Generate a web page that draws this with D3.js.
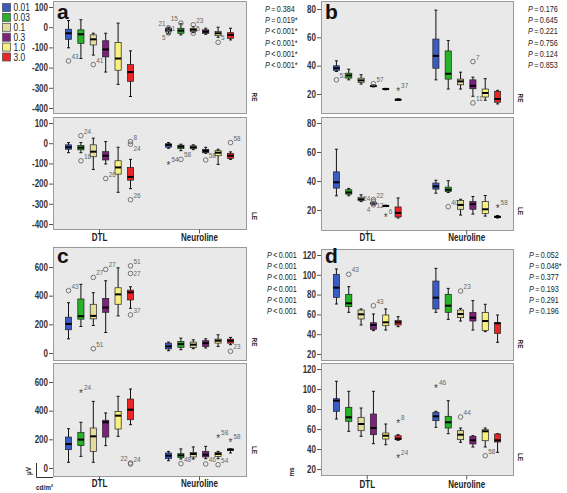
<!DOCTYPE html>
<html><head><meta charset="utf-8">
<script src="https://cdn.jsdelivr.net/npm/d3@7"></script>
<style>body{margin:0;background:#fff}svg{display:block}</style>
</head><body>
<svg id="chart" width="567" height="493"></svg>
<script>
// ---------- DATA ----------
const categories = ["DTL", "Neuroline"];
const series = ["0.01", "0.03", "0.1", "0.3", "1.0", "3.0"];
const seriesColors = ["#3a5bc4", "#27b327", "#e4dc9e", "#7e207e", "#f8f27c", "#ec2424"];

const aTicks = [-400, -300, -200, -100, 0, 100];
const bTicks = [20, 40, 60, 80];
const cTicks = [0, 200, 400, 600];
const dTicks = [20, 40, 60, 80, 100, 120];

// boxes: [category][series] = [whiskerLow, Q1, median, Q3, whiskerHigh]
const aRE = [
  [[-102,-60,-30,-10,33],[-155,-80,-35,-13,37],[-138,-88,-60,-38,-30],[-222,-147,-110,-67,-30],[-283,-213,-155,-75,20],[-343,-268,-222,-185,-117]],
  [[-30,-22,-13,-5,0],[-38,-30,-17,-5,17],[-27,-22,-13,-7,3],[-35,-30,-22,-13,-5],[-50,-42,-30,-22,0],[-63,-55,-38,-27,-5]]
];
const aLE = [
  [[-47,-30,-20,-8,3],[-47,-33,-22,-12,3],[-130,-67,-42,-8,25],[-103,-83,-62,-42,8],[-243,-153,-120,-87,-20],[-225,-183,-167,-120,-80]],
  [[-25,-20,-8,-3,3],[-37,-27,-17,-10,-5],[-32,-27,-20,-13,-8],[-50,-47,-38,-30,-20],[-105,-62,-47,-37,-30],[-80,-75,-62,-50,-43]]
];
const bRE = [
  [[35.9,36.6,38.2,39.9,43.4],[30,31.2,33.1,34.7,37.5],[27,28.2,29.6,31.2,33.6],[25,25.2,25.6,26,26.4],[23,23.2,23.5,23.8,24],[15.6,15.8,16,16.3,16.6]],
  [[30,38.2,46.9,58.8,79.2],[23.5,30.5,34.3,50.4,57.7],[23.5,26.5,28.9,30.5,35.4],[18.4,23.7,25.8,30,31.9],[15.6,17.9,20.7,23.5,30.8],[13,14.2,16.5,21.9,22.6]]
];
const bLE = [
  [[29.8,35.1,39.1,46.3,61.9],[29.8,30.9,32.1,34,34.9],[25.8,26.5,27.4,28.8,30.5],[24,24.3,24.6,24.9,25.2],[22.4,22.6,22.8,23.1,23.3],[14.5,15.2,18,22.1,28.3]],
  [[31.6,34.4,36.3,38.6,40.5],[32.1,32.8,34,35.8,40.2],[16.5,20.5,23.5,26.5,27.4],[17.2,20.5,24,25.8,29.3],[15.8,17.7,20.5,25.8,30],[14.5,14.8,15.2,15.8,16.2]]
];
const cRE = [
  [[99,162,203,250,351],[185,236,257,377,479],[192,238,259,340,421],[143,284,317,381,504],[259,340,409,455,594],[312,370,423,439,462]],
  [[16,28,46,69,76],[23,39,62,81,104],[30,39,58,76,92],[35,46,69,86,99],[46,69,86,97,127],[58,69,86,97,109]]
];
const cLE = [
  [[40,128,167,216,274],[81,156,198,249,319],[40,116,221,279,465],[156,216,319,333,384],[221,272,365,395,500],[302,337,407,481,551]],
  [[51,65,86,105,116],[63,74,88,100,133],[63,77,98,109,147],[65,77,93,116,151],[65,81,98,109,116],[105,121,128,133,133]]
];
const dRE = [
  [[70.5,77.2,87,100.5,105.9],[62.1,67.8,71.2,80.3,88],[49.3,55.4,60.1,64.4,65.5],[43.6,44.9,49.3,51.6,60.4],[44.2,48.6,52,59.4,65.5],[47.6,49.3,52,53.7,57.7]],
  [[62.1,65.5,76.9,93.7,106.5],[55,62.1,68.8,80.3,86.3],[53.3,56.7,60.4,64.4,66.1],[44.2,53.3,56.7,62.1,73.9],[42.6,43.6,53.3,61.8,70.2],[31.8,40.9,51,51.6,59.4]]
];
const dLE = [
  [[70,77.7,88.3,90.3,107.7],[57.7,67.7,71.7,81.7,97.7],[52.7,58.3,65,71.7,81],[45.3,54.3,61,75,97.7],[44.3,50,53.3,56,65],[48.7,49.3,50.3,53.3,54.3]],
  [[61.7,68.3,72.7,76.7,77.7],[55.3,61,66.7,72.7,88.3],[46.7,49.3,54.3,58.3,61],[42,45,48.7,52.7,53.3],[42,48.3,57.7,59.3,61],[36.7,47,48.7,55,55.3]]
];

// outliers: [categoryIndex, seriesIndex, value, marker ("o" or "*"), case label, label side]
const aREout = [[0,0,-167,"o","43","r"],[0,2,-185,"o","41","r"],[1,0,-3,"o","21","l"],[1,0,-28,"o","5","lb"],[1,0,-28,"o","1","r"],
  [1,1,20,"o","15","l"],[1,2,12,"o","23","r"],[1,2,-30,"o","5","r"],[1,4,-75,"o","5","r"]];
const aLEout = [[0,1,37,"o","24","r"],[0,1,-87,"o","16","r"],[0,3,-175,"o","26","r"],[0,5,8,"o","8","r"],[0,5,-5,"o","24","rb"],[0,5,-280,"o","26","r"],
  [1,0,-105,"*","54","r"],[1,1,-80,"o","58","r"],[1,3,-83,"o","58","r"],[1,5,3,"o","58","r"]];
const bREout = [[0,0,30,"o","53","r"],[0,3,27.3,"o","57","r"],[0,5,22.6,"*","37","r"],[1,3,42.9,"o","7","r"],[1,3,13.7,"o","11","r"]];
const bLEout = [[0,3,27.2,"o","22","r"],[0,3,26,"o","12","rb"],[0,3,24.6,"o","24","l"],[0,3,23.6,"o","4","lb"],[0,4,15.9,"*","6","r"],
  [1,1,22.3,"o","40","r"],[1,5,22.3,"*","58","r"]];
const cREout = [[0,0,435,"o","43","r"],[0,2,527,"o","27","r"],[0,2,30,"o","51","r"],[0,3,583,"o","27","r"],[0,5,608,"o","51","r"],[0,5,555,"o","27","rm"],[0,5,266,"o","37","r"],
  [1,5,12,"o","23","r"]];
const cLEout = [[0,1,528,"*","24","r"],[0,5,35,"o","22","l"],[0,5,28,"o","24","r"],[1,1,30,"o","48","r"],[1,3,28,"o","46","r"],[1,4,214,"*","58","r"],[1,4,23,"o","54","r"],[1,5,191,"*","58","r"]];
const dREout = [[0,1,100.5,"o","43","r"],[0,3,68.8,"o","43","r"],[1,2,83.6,"o","23","r"]];
const dLEout = [[0,5,67,"*","8","r"],[0,5,31.7,"*","24","r"],[1,0,101.7,"*","46","r"],[1,2,72,"o","44","r"],[1,4,33.3,"o","58","r"]];

const aP = ["= 0.384","= 0.019*","< 0.001*","< 0.001*","< 0.001*","< 0.001*"];
const bP = ["= 0.176","= 0.645","= 0.221","= 0.756","= 0.124","= 0.853"];
const cP = ["< 0.001","< 0.001","< 0.001","< 0.001","< 0.001","< 0.001"];
const dP = ["= 0.052","= 0.048*","= 0.377","= 0.193","= 0.291","= 0.196"];

// ---------- LAYOUT ----------
const FONT = "'Liberation Sans',Arial,sans-serif";
const SQ = 0.8; // horizontal condensing of text (narrow face)
const panels = [
  {letter:"a", x:[53,246], catY:240, letterPos:[57,19], pPos:[265,9], eyeX:255,
   subs:[{eye:"RE", eyeY:97, frame:[1,113], range:[108,7], domain:[-400,100], ticks:aTicks, boxes:aRE, out:aREout},
         {eye:"LE", eyeY:216, frame:[117,229], range:[224,123], domain:[-400,100], ticks:aTicks, boxes:aLE, out:aLEout}], p:aP},
  {letter:"b", x:[321,513], catY:240, letterPos:[325,19], pPos:[528,9], eyeX:521,
   subs:[{eye:"RE", eyeY:98, frame:[1,113], range:[94,9], domain:[20,80], ticks:bTicks, boxes:bRE, out:bREout},
         {eye:"LE", eyeY:211, frame:[117,230], range:[210,123], domain:[20,80], ticks:bTicks, boxes:bLE, out:bLEout}], p:bP},
  {letter:"c", x:[53,246], catY:486, letterPos:[57,263], pPos:[267,255], eyeX:255,
   subs:[{eye:"RE", eyeY:342, frame:[247,360], range:[353,267], domain:[0,600], ticks:cTicks, boxes:cRE, out:cREout},
         {eye:"LE", eyeY:450, frame:[363,476], range:[468,382], domain:[0,600], ticks:cTicks, boxes:cLE, out:cLEout}], p:cP},
  {letter:"d", x:[321,513], catY:487, letterPos:[325,263], pPos:[529,255], eyeX:521,
   subs:[{eye:"RE", eyeY:344, frame:[249,360], range:[354,255], domain:[20,120], ticks:dTicks, boxes:dRE, out:dREout},
         {eye:"LE", eyeY:457, frame:[363,475], range:[469,369], domain:[20,120], ticks:dTicks, boxes:dLE, out:dLEout}], p:dP}
];

const svg = d3.select("#chart");

function condense(sel) {
  sel.each(function () {
    const t = d3.select(this);
    const x = +t.attr("x") || 0, y = +t.attr("y") || 0;
    const tr = t.attr("transform") || "";
    t.attr("x", 0).attr("y", 0).attr("transform", `${tr} translate(${x},${y}) scale(${SQ},1)`);
  });
}

// legend
const leg = svg.append("g");
series.forEach((s, i) => {
  const y = 3 + i * 9.9;
  leg.append("rect").attr("x", 2.5).attr("y", y + 0.5).attr("width", 8).attr("height", 8)
    .attr("fill", seriesColors[i]).attr("stroke", "#555").attr("stroke-width", 0.8);
  leg.append("text").attr("class", "nar").attr("x", 13.5).attr("y", y + 8).attr("font-family", FONT).attr("font-size", 10.5)
    .attr("fill", "#222").text(s);
});

panels.forEach(p => {
  const g = svg.append("g");
  const xCat = d3.scaleBand().domain(categories).range(p.x).paddingInner(0.256).paddingOuter(0.093);
  const xSer = d3.scaleBand().domain(series).range([0, xCat.bandwidth()]).paddingInner(0.5).paddingOuter(0.25);
  const bw = xSer.bandwidth();

  p.subs.forEach((s, si) => {
    const y = d3.scaleLinear().domain(s.domain).range(s.range);
    g.append("rect").attr("x", p.x[0] + 0.5).attr("y", s.frame[0] + 0.5)
      .attr("width", p.x[1] - p.x[0]).attr("height", s.frame[1] - s.frame[0])
      .attr("fill", "#e9e9e9").attr("stroke", "#9a9a9a").attr("stroke-width", 1);

    const ax = g.append("g").attr("transform", `translate(${p.x[0]},0)`)
      .call(d3.axisLeft(y).tickValues(s.ticks).tickSize(4).tickPadding(1).tickFormat(d => String(d)));
    ax.select(".domain").remove();
    ax.selectAll("line").attr("stroke", "#555");
    ax.selectAll("text").attr("class", "nar").attr("font-family", FONT).attr("font-size", 10).attr("font-weight", "bold").attr("fill", "#333");

    if (si === 1) {
      const bx = g.append("g").attr("transform", `translate(0,${s.frame[1] + 0.5})`)
        .call(d3.axisBottom(xCat).tickSize(4).tickPadding(p.catY - s.frame[1] - 11));
      bx.select(".domain").remove();
      bx.selectAll("line").attr("stroke", "#555");
      bx.selectAll("text").attr("class", "nar").attr("font-family", FONT).attr("font-size", 10).attr("font-weight", "bold").attr("fill", "#222");
    }

    // boxes
    s.boxes.forEach((cat, ci) => {
      cat.forEach((d, k) => {
        const cx = xCat(categories[ci]) + xSer(series[k]) + bw / 2;
        const [lo, q1, md, q3, hi] = d;
        const bg = g.append("g");
        bg.append("line").attr("x1", cx).attr("x2", cx).attr("y1", y(hi)).attr("y2", y(lo))
          .attr("stroke", "#111").attr("stroke-width", 1);
        [lo, hi].forEach(v => bg.append("line").attr("x1", cx - 1.5).attr("x2", cx + 1.5)
          .attr("y1", y(v)).attr("y2", y(v)).attr("stroke", "#111").attr("stroke-width", 1));
        bg.append("rect").attr("x", cx - bw / 2).attr("y", y(q3)).attr("width", bw)
          .attr("height", Math.max(1, y(q1) - y(q3))).attr("fill", seriesColors[k])
          .attr("stroke", "#222").attr("stroke-width", 0.7);
        bg.append("line").attr("x1", cx - bw / 2).attr("x2", cx + bw / 2).attr("y1", y(md)).attr("y2", y(md))
          .attr("stroke", "#000").attr("stroke-width", 2);
      });
    });

    // outliers
    s.out.forEach(o => {
      const [ci, k, v, m, lab, side] = o;
      const cx = xCat(categories[ci]) + xSer(series[k]) + bw / 2;
      const cy = y(v);
      if (m === "o") {
        g.append("circle").attr("cx", cx).attr("cy", cy).attr("r", 2.3)
          .attr("fill", "none").attr("stroke", "#666").attr("stroke-width", 0.9);
      } else {
        g.append("text").attr("x", cx).attr("y", cy + 5).attr("text-anchor", "middle")
          .attr("font-family", FONT).attr("font-size", 10).attr("fill", "#444").text("*");
      }
      const left = side[0] === "l";
      const ly = side[1] === "b" ? cy + 7 : side[1] === "m" ? cy + 3 : cy - 2;
      g.append("text").attr("class", "nar").attr("x", left ? cx - 3 : cx + 3).attr("y", ly)
        .attr("text-anchor", left ? "end" : "start")
        .attr("font-family", FONT).attr("font-size", 8).attr("fill", "#666").text(lab);
    });

    // eye label
    g.append("text").attr("class", "nar").attr("transform", `translate(${p.eyeX},${s.eyeY}) rotate(90)`)
      .attr("text-anchor", "middle").attr("dy", "0.35em")
      .attr("font-family", FONT).attr("font-size", 8).attr("font-weight", "bold").attr("fill", "#222").text(s.eye);
  });

  // panel letter
  g.append("text").attr("x", p.letterPos[0]).attr("y", p.letterPos[1])
    .attr("font-family", FONT).attr("font-size", 21).attr("font-weight", "bold")
    .attr("fill", "#111").text(p.letter);

  // P values
  p.p.forEach((t, i) => {
    const tx = g.append("text").attr("class", "nar").attr("x", p.pPos[0]).attr("y", p.pPos[1] + i * 11.2 + 3)
      .attr("font-family", FONT).attr("font-size", 9).attr("fill", "#222");
    tx.append("tspan").attr("font-style", "italic").text("P");
    tx.append("tspan").text("\u2009" + t.replace(" ", "\u2009"));
  });
});

// unit markers
const u = svg.append("g");
u.append("path").attr("d", "M36.5,463V477.5H53").attr("fill", "none").attr("stroke", "#333").attr("stroke-width", 1);
u.append("text").attr("class", "nar").attr("transform", "translate(31,471) rotate(-90)").attr("text-anchor", "middle")
  .attr("font-family", FONT).attr("font-size", 8).attr("font-weight", "bold").attr("fill", "#222").text("µV");
u.append("text").attr("class", "nar").attr("x", 36).attr("y", 490).attr("font-family", FONT).attr("font-size", 8)
  .attr("font-weight", "bold").attr("fill", "#222").text("cd/m²");
u.append("text").attr("class", "nar").attr("transform", "translate(294,472) rotate(-90)").attr("text-anchor", "middle")
  .attr("font-family", FONT).attr("font-size", 8).attr("font-weight", "bold").attr("fill", "#222").text("ms");

condense(svg.selectAll("text.nar"));
</script>
</body></html>
